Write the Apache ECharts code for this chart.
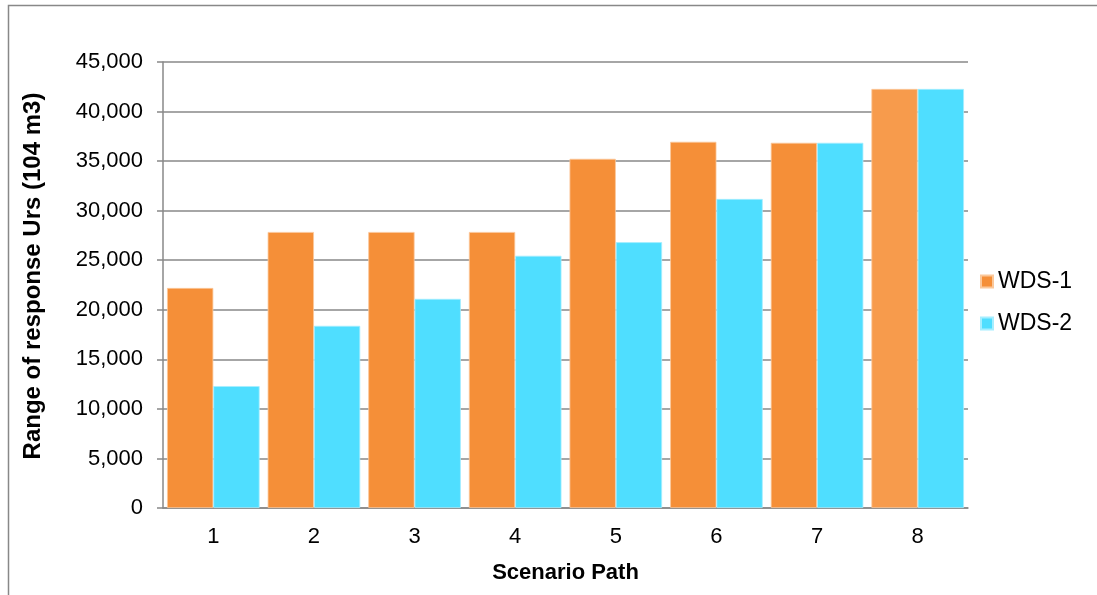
<!DOCTYPE html>
<html><head><meta charset="utf-8">
<script src="https://cdn.jsdelivr.net/npm/echarts@6/dist/echarts.min.js"></script>
<style>html,body{margin:0;padding:0;background:#fff}#c{width:1097px;height:595px}</style>
</head><body><div id="c"></div>
<script>
const categories = ['1','2','3','4','5','6','7','8'];
const wds1 = [22200, 27850, 27850, 27850, 35230, 36950, 36850, 42280];
const wds2 = [12300, 18380, 21100, 25450, 26820, 31180, 36850, 42280];
const seriesNames = ['WDS-1','WDS-2'];
const font = 'Liberation Sans, Arial, sans-serif';
const chart = echarts.init(document.getElementById('c'), null, {renderer:'canvas'});
chart.setOption({
  animation:false,
  backgroundColor:'#fff',
  graphic:[{type:'rect',shape:{x:8.5,y:5.5,width:1200,height:700},style:{fill:'none',stroke:'#888',lineWidth:1.5},silent:true}],
  grid:{left:163,right:129,top:62,bottom:87,containLabel:false},
  legend:{orient:'vertical',left:975,top:265,itemWidth:12,itemHeight:12,itemGap:19,icon:'rect',
    textStyle:{fontFamily:font,fontSize:23,color:'#000'},data:seriesNames},
  xAxis:{type:'category',data:categories,name:'Scenario Path',nameLocation:'middle',nameGap:54,
    nameTextStyle:{fontFamily:font,fontSize:22,fontWeight:'bold',color:'#000'},
    axisLine:{lineStyle:{color:'#888',width:1.5}},axisTick:{show:false},
    axisLabel:{fontFamily:font,fontSize:22,color:'#000',margin:18}},
  yAxis:{type:'value',min:0,max:45000,interval:5000,name:'Range of response Urs (104 m3)',nameLocation:'middle',nameGap:118,
    nameTextStyle:{fontFamily:font,fontSize:24,fontWeight:'bold',color:'#000',padding:[0,0,0,18]},
    axisLine:{show:true,lineStyle:{color:'#888',width:1.5}},
    axisTick:{show:true,length:6,lineStyle:{color:'#888',width:1.5}},
    splitLine:{lineStyle:{color:'#888',width:1.5}},
    axisLabel:{fontFamily:font,fontSize:22,color:'#000',margin:20,
      formatter:v=>v.toLocaleString('en-US')}},
  series:[
    {name:seriesNames[0],type:'bar',data:wds1.map((v,i)=>i===7?{value:v,itemStyle:{color:'#F79B4C'}}:v),
      itemStyle:{color:'#F58F38',borderColor:'#FBC89A',borderWidth:0.8},barGap:'0%',barCategoryGap:'8%'},
    {name:seriesNames[1],type:'bar',data:wds2,itemStyle:{color:'#4FDEFF',borderColor:'#A6EEFF',borderWidth:0.8},barGap:'0%',barCategoryGap:'8%'}
  ]
});
</script></body></html>
